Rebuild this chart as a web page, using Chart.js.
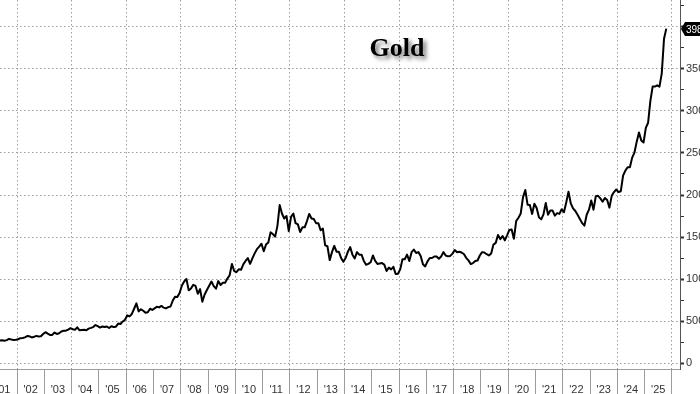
<!DOCTYPE html>
<html>
<head>
<meta charset="utf-8">
<title>Gold</title>
<script src="https://cdn.jsdelivr.net/npm/chart.js@4.4.1/dist/chart.umd.min.js"></script>
<style>
  html, body { margin: 0; padding: 0; background: #fff; }
  #wrap { width: 700px; height: 394px; position: relative; overflow: hidden; }
</style>
</head>
<body>
<div id="wrap"><canvas id="goldChart"></canvas></div>
<script>
/* -------------------------------------------------
   Data – monthly gold price (USD/oz)
   ------------------------------------------------- */
const FIRST_MONTH = 3; // 2001 series starts in April (0-based month)
const g2001 = [261, 268, 270, 266, 273, 288, 280, 275, 277];
const g2002 = [283, 296, 297, 305, 322, 318, 305, 312, 323, 317, 319, 345];
const g2003 = [367, 350, 334, 335, 363, 346, 354, 375, 385, 385, 398, 415];
const g2004 = [402, 397, 425, 390, 393, 395, 390, 410, 418, 428, 452, 438];
const g2005 = [422, 435, 428, 435, 417, 437, 429, 433, 470, 465, 495, 515];
const g2006 = [568, 555, 584, 646, 710, 615, 640, 622, 598, 604, 646, 632];
const g2007 = [650, 670, 662, 680, 659, 650, 665, 673, 743, 790, 785, 834];
const g2008 = [923, 971, 1000, 865, 887, 930, 918, 825, 880, 730, 815, 870];
const g2009 = [920, 970, 915, 885, 975, 928, 955, 955, 1005, 1045, 1180, 1095];
const g2010 = [1082, 1115, 1110, 1175, 1215, 1250, 1180, 1245, 1305, 1355, 1385, 1420];
const g2011 = [1330, 1410, 1435, 1555, 1535, 1505, 1630, 1880, 1780, 1720, 1750, 1570];
const g2012 = [1740, 1780, 1665, 1650, 1560, 1615, 1615, 1690, 1775, 1720, 1715, 1665];
const g2013 = [1665, 1580, 1600, 1400, 1390, 1225, 1320, 1395, 1325, 1325, 1250, 1205];
const g2014 = [1250, 1325, 1380, 1290, 1245, 1320, 1290, 1290, 1215, 1170, 1180, 1200];
const g2015 = [1280, 1215, 1180, 1185, 1190, 1172, 1095, 1135, 1115, 1145, 1060, 1062];
const g2016 = [1115, 1235, 1235, 1290, 1215, 1320, 1350, 1310, 1320, 1275, 1175, 1150];
const g2017 = [1210, 1250, 1250, 1268, 1268, 1242, 1268, 1320, 1280, 1270, 1275, 1302];
const g2018 = [1345, 1318, 1325, 1315, 1298, 1252, 1222, 1178, 1190, 1215, 1220, 1280];
const g2019 = [1320, 1315, 1295, 1280, 1305, 1410, 1430, 1525, 1475, 1512, 1460, 1520];
const g2020 = [1585, 1590, 1480, 1690, 1730, 1780, 1975, 2060, 1885, 1880, 1775, 1895];
const g2021 = [1845, 1735, 1710, 1770, 1905, 1765, 1815, 1815, 1755, 1785, 1775, 1830];
const g2022 = [1795, 1910, 2040, 1900, 1840, 1810, 1765, 1715, 1665, 1635, 1765, 1825];
const g2023 = [1935, 1825, 1985, 1990, 1960, 1920, 1965, 1940, 1850, 1990, 2035, 2065];
const g2024 = [2035, 2045, 2230, 2290, 2330, 2330, 2445, 2505, 2635, 2745, 2650, 2625];
const g2025 = [2800, 2860, 3120, 3290, 3290, 3305, 3290, 3445, 3860, 3980];

const yearlySeries = [g2001, g2002, g2003, g2004, g2005, g2006, g2007, g2008, g2009,
  g2010, g2011, g2012, g2013, g2014, g2015, g2016, g2017, g2018, g2019, g2020,
  g2021, g2022, g2023, g2024, g2025];

// Tick values & labels
const yearTicks = [2001, 2002, 2003, 2004, 2005, 2006, 2007, 2008, 2009, 2010, 2011, 2012, 2013,
  2014, 2015, 2016, 2017, 2018, 2019, 2020, 2021, 2022, 2023, 2024, 2025, 2026];
const yearLabels = ["'01", "'02", "'03", "'04", "'05", "'06", "'07", "'08", "'09", "'10", "'11", "'12", "'13",
  "'14", "'15", "'16", "'17", "'18", "'19", "'20", "'21", "'22", "'23", "'24", "'25", ""];
const priceTicks = [0, 250, 500, 750, 1000, 1250, 1500, 1750, 2000, 2250, 2500, 2750,
  3000, 3250, 3500, 3750, 4000, 4250];
const LAST_PRICE_LABEL = '3980';
const TITLE = 'Gold';

/* -------------------------------------------------
   Axis ranges (how much of the timeline is visible)
   ------------------------------------------------- */
const X_MIN = 2001.377, X_MAX = 2026.294;
const Y_MIN = -71, Y_MAX = 4321;

/* -------------------------------------------------
   Build {x, y} points: x = decimal year at mid-month
   ------------------------------------------------- */
const points = [];
yearlySeries.forEach((arr, i) => {
  const year = 2001 + i;
  const offset = i === 0 ? FIRST_MONTH : 0;
  arr.forEach((v, m) => points.push({ x: year + (m + offset + 0.5) / 12, y: v }));
});

const GRID = '#9c9c9c';
const AXIS_FONT = { family: '"Liberation Sans", Arial, sans-serif', size: 11 };

// no extra room for edge labels – plot runs to the canvas edges
function noEdgePadding(s) {
  s.paddingTop = 0; s.paddingBottom = 0;
  s.paddingLeft = 0; s.paddingRight = 0;
}

/* -------------------------------------------------
   Plugins – title with drop shadow, last-price tag
   ------------------------------------------------- */
const titlePlugin = {
  id: 'goldTitle',
  afterDraw(chart) {
    const ctx = chart.ctx;
    ctx.save();
    ctx.font = 'bold 26px "Liberation Serif", "Times New Roman", serif';
    ctx.textAlign = 'center';
    ctx.textBaseline = 'alphabetic';
    ctx.shadowColor = 'rgba(0,0,0,0.55)';
    ctx.shadowOffsetX = 3;
    ctx.shadowOffsetY = 3;
    ctx.shadowBlur = 4;
    ctx.fillStyle = '#000';
    ctx.fillText(TITLE, 397, 56);
    ctx.restore();
  }
};

const lastTagPlugin = {
  id: 'lastTag',
  afterDraw(chart) {
    const ctx = chart.ctx;
    const yScale = chart.scales.y;
    const last = points[points.length - 1].y;
    const py = Math.round(yScale.getPixelForValue(last));
    const x0 = yScale.left + 1;
    ctx.save();
    ctx.fillStyle = '#000';
    ctx.beginPath();
    ctx.moveTo(x0, py);
    ctx.lineTo(x0 + 4, py - 7);
    ctx.lineTo(chart.width + 2, py - 7);
    ctx.lineTo(chart.width + 2, py + 7);
    ctx.lineTo(x0 + 4, py + 7);
    ctx.closePath();
    ctx.fill();
    ctx.fillStyle = '#fff';
    ctx.font = '10px "Liberation Sans", Arial, sans-serif';
    ctx.textAlign = 'left';
    ctx.textBaseline = 'middle';
    ctx.fillText(LAST_PRICE_LABEL, x0 + 5, py + 1);
    ctx.restore();
  }
};

/* -------------------------------------------------
   Chart
   ------------------------------------------------- */
const chart = new Chart(document.getElementById('goldChart'), {
  type: 'line',
  data: {
    datasets: [{
      label: 'Gold',
      data: points,
      borderColor: '#000',
      borderWidth: 2,
      borderJoinStyle: 'round',
      pointRadius: 0,
      tension: 0,
      fill: false
    }]
  },
  options: {
    responsive: true,
    maintainAspectRatio: false,
    animation: false,
    devicePixelRatio: 1,
    layout: { padding: 0 },
    plugins: {
      legend: { display: false },
      tooltip: { enabled: false }
    },
    scales: {
      x: {
        type: 'linear',
        min: X_MIN,
        max: X_MAX,
        afterBuildTicks: s => { s.ticks = yearTicks.map(v => ({ value: v })); },
        afterFit: s => { s.height = 25; noEdgePadding(s); },
        grid: {
          color: c => (c.tick && c.tick.value % 2 === 0) ? GRID : 'rgba(0,0,0,0)',
          lineWidth: 1,
          drawTicks: true,
          tickLength: 25,
          tickColor: GRID,
          tickWidth: 1
        },
        border: { display: true, color: GRID, width: 1, dash: [1.5, 2.5] },
        ticks: {
          autoSkip: false,
          maxRotation: 0,
          padding: -11,
          labelOffset: 13.6,
          color: '#333',
          font: AXIS_FONT,
          callback: v => yearLabels[yearTicks.indexOf(v)] ?? ''
        }
      },
      y: {
        position: 'right',
        min: Y_MIN,
        max: Y_MAX,
        afterBuildTicks: s => { s.ticks = priceTicks.map(v => ({ value: v })); },
        afterFit: s => { s.width = 20; noEdgePadding(s); },
        grid: {
          color: c => (c.tick && c.tick.value % 500 === 0) ? GRID : 'rgba(0,0,0,0)',
          lineWidth: 1,
          drawTicks: true,
          tickLength: 4,
          tickColor: '#333',
          tickWidth: c => (c.tick && c.tick.value % 500 === 0) ? 2 : 1
        },
        border: { display: true, color: '#555', width: 1, dash: [1.5, 2.5] },
        ticks: {
          autoSkip: false,
          padding: 2,
          color: '#333',
          font: AXIS_FONT,
          callback: v => (v % 500 === 0 && v < 4000) ? String(v) : ''
        }
      }
    }
  },
  plugins: [titlePlugin, lastTagPlugin]
});
</script>
</body>
</html>
